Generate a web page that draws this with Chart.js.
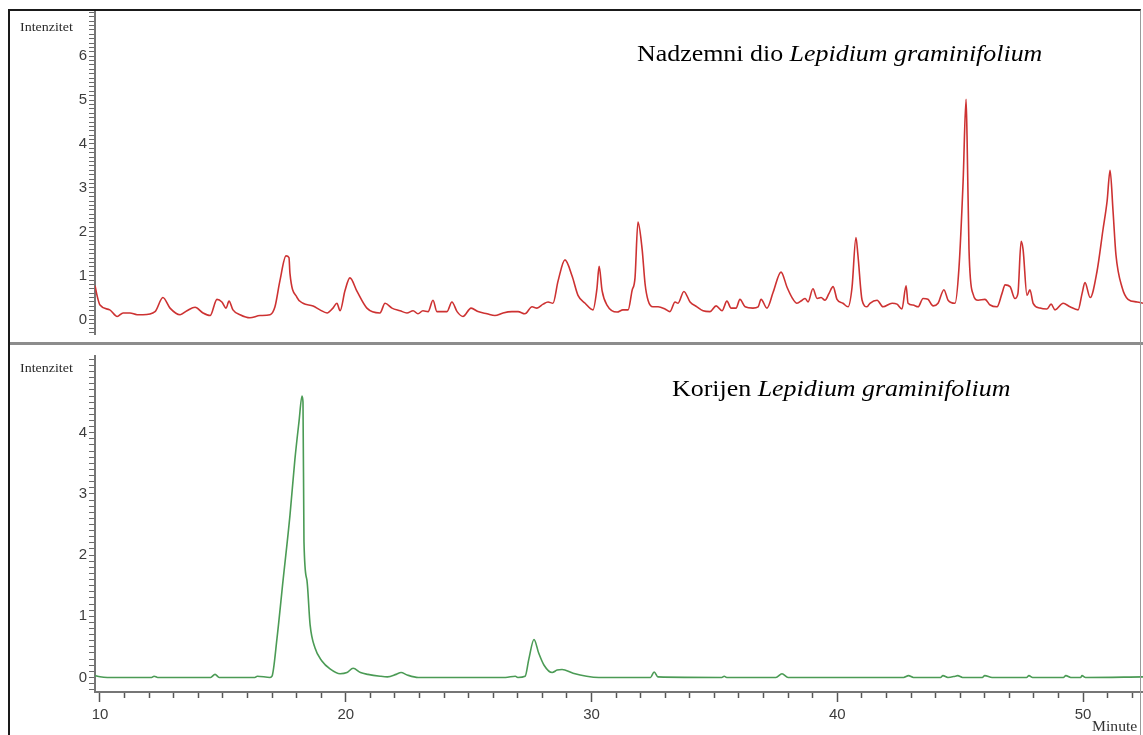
<!DOCTYPE html>
<html>
<head>
<meta charset="utf-8">
<script src="https://cdn.jsdelivr.net/npm/chart.js@4/dist/chart.umd.min.js"></script>
<style>
  html, body { margin:0; padding:0; background:#fff; }
  body { width:1143px; height:735px; position:relative; overflow:hidden; }
  canvas { position:absolute; left:0; }
  #cTop { top:0; }
  #cBot { top:345px; }
  .frame { position:absolute; left:8px; top:9px; width:1133px; height:730px; border-left:2px solid #1a1a1a; border-top:2px solid #1a1a1a; border-right:1px solid #9a9a9a; box-sizing:border-box; pointer-events:none; }
  .sep { position:absolute; left:8px; top:342px; width:1135px; height:3px; background:#8c8c8c; }
  .lbl { position:absolute; font-family:"Liberation Serif","Times New Roman",serif; color:#222; white-space:nowrap; transform-origin:left top; }
  .ylab { font-size:12.5px; transform:scaleX(1.12); color:#2a2a2a; }
  .title { font-size:24px; transform:scaleX(1.08); color:#000; }
  .minute { font-size:14px; transform:scaleX(1.12); color:#333; }
</style>
</head>
<body>
<canvas id="cTop" width="1143" height="345"></canvas>
<canvas id="cBot" width="1143" height="390"></canvas>
<div class="sep"></div>
<div class="frame"></div>
<div class="lbl ylab" style="left:20px; top:20px;">Intenzitet</div>
<div class="lbl ylab" style="left:20px; top:361px;">Intenzitet</div>
<div class="lbl title" style="left:637px; top:40px;">Nadzemni dio <i>Lepidium graminifolium</i></div>
<div class="lbl title" style="left:672px; top:375px;">Korijen <i>Lepidium graminifolium</i></div>
<div class="lbl minute" style="left:1092px; top:719px;">Minute</div>
<script>
// ---- data ----
const topTime = [9.80,9.88,10.0,10.4,10.7,10.94,11.22,11.51,11.75,12.24,12.56,12.85,13.26,13.54,13.87,14.19,14.48,14.76,14.96,15.13,15.25,15.41,15.70,16.10,16.51,16.92,17.12,17.32,17.57,17.69,17.73,18.02,18.26,18.67,18.95,19.24,19.48,19.64,19.77,19.97,20.17,20.46,20.86,21.39,21.60,21.88,22.21,22.49,22.74,22.94,23.14,23.35,23.55,23.71,24.12,24.32,24.53,24.77,25.10,25.38,25.75,26.07,26.40,26.76,27.01,27.29,27.58,27.78,28.03,28.23,28.43,28.64,28.92,29.21,29.45,29.74,30.06,30.22,30.31,30.43,30.63,31.04,31.28,31.49,31.65,31.77,31.89,32.06,32.18,32.30,32.50,32.71,32.99,33.19,33.40,33.52,33.76,34.01,34.29,34.54,34.82,35.07,35.31,35.51,35.68,35.88,36.04,36.25,36.57,36.78,36.90,37.14,37.39,37.71,37.96,38.16,38.36,38.57,38.69,38.81,39.01,39.18,39.34,39.50,39.66,39.83,39.99,40.23,40.44,40.60,40.76,40.84,41.01,41.21,41.33,41.62,41.86,42.23,42.43,42.63,42.80,42.88,43.08,43.29,43.49,43.69,43.90,44.10,44.34,44.51,44.79,44.95,45.12,45.24,45.28,45.36,45.52,45.73,46.01,46.22,46.50,46.70,46.83,47.03,47.23,47.35,47.48,47.56,47.72,47.84,47.97,48.25,48.53,48.70,48.86,49.19,49.47,49.80,49.96,50.08,50.29,50.57,50.81,50.98,51.10,51.22,51.34,51.59,51.83,52.20,52.44];
const topIntensity = [0.77,0.55,0.33,0.22,0.07,0.15,0.15,0.11,0.11,0.18,0.50,0.26,0.11,0.20,0.28,0.15,0.09,0.46,0.40,0.26,0.42,0.22,0.11,0.04,0.09,0.11,0.29,0.88,1.45,1.41,1.05,0.50,0.37,0.31,0.22,0.15,0.26,0.37,0.20,0.66,0.95,0.64,0.26,0.15,0.37,0.26,0.20,0.15,0.20,0.13,0.20,0.18,0.44,0.18,0.18,0.40,0.18,0.07,0.26,0.18,0.13,0.09,0.15,0.18,0.18,0.13,0.29,0.26,0.35,0.40,0.37,0.88,1.36,0.99,0.55,0.37,0.22,0.70,1.21,0.66,0.33,0.17,0.22,0.22,0.66,0.95,2.22,1.60,0.81,0.44,0.29,0.29,0.24,0.18,0.40,0.37,0.64,0.40,0.29,0.20,0.18,0.31,0.20,0.42,0.26,0.26,0.46,0.29,0.26,0.29,0.46,0.26,0.62,1.08,0.73,0.50,0.37,0.44,0.48,0.40,0.70,0.48,0.50,0.44,0.59,0.75,0.46,0.37,0.29,0.73,1.87,1.47,0.44,0.29,0.37,0.44,0.29,0.37,0.35,0.24,0.77,0.37,0.33,0.29,0.48,0.46,0.31,0.37,0.68,0.44,0.37,1.16,3.14,5.02,4.18,1.60,0.59,0.44,0.46,0.33,0.29,0.59,0.79,0.75,0.48,0.59,1.78,1.60,0.55,0.68,0.37,0.26,0.24,0.35,0.22,0.37,0.29,0.22,0.59,0.84,0.50,1.10,2.04,2.70,3.40,2.48,1.47,0.73,0.46,0.40,0.37];

const bottomTime = [9.80,10.0,10.3,12.1,12.2,12.35,14.5,14.68,14.85,16.3,16.4,16.92,17.0,17.2,17.45,17.73,17.93,18.10,18.22,18.26,18.30,18.42,18.55,18.75,19.03,19.36,19.77,20.05,20.3,20.6,20.9,21.4,21.7,22.05,22.25,22.5,22.95,26.5,26.9,27.0,27.3,27.45,27.66,27.85,28.07,28.4,28.6,28.8,29.25,29.8,30.3,32.4,32.55,32.7,35.3,35.4,35.5,37.5,37.75,38.0,42.7,42.9,43.1,44.2,44.3,44.5,44.8,44.9,45.1,45.9,46.0,46.3,47.7,47.8,47.95,49.2,49.3,49.5,49.9,49.96,50.1,52.44];
const bottomIntensity = [0.03,0.01,0.0,0.0,0.02,0.0,0.0,0.05,0.0,0.0,0.02,0.0,0.02,0.63,1.59,2.65,3.56,4.19,4.60,4.50,2.22,1.59,0.86,0.48,0.27,0.14,0.06,0.08,0.15,0.08,0.05,0.02,0.01,0.05,0.08,0.04,0.0,0.0,0.02,0.0,0.02,0.30,0.62,0.40,0.20,0.08,0.12,0.13,0.07,0.02,0.0,0.0,0.09,0.01,0.0,0.02,0.0,0.0,0.06,0.0,0.0,0.03,0.0,0.0,0.03,0.0,0.02,0.03,0.0,0.0,0.03,0.0,0.0,0.03,0.0,0.0,0.03,0.0,0.0,0.03,0.0,0.01];

const xTickLabels = [10, 20, 30, 40, 50];
const topYTickLabels = [0, 1, 2, 3, 4, 5, 6];
const bottomYTickLabels = [0, 1, 2, 3, 4];

// ---- axis ranges ----
const X_MIN = 9.797, X_MAX = 52.44;
const TOP_Y = [-0.33, 7.03];
const BOT_Y = [-0.238, 5.254];

const TICK_FONT = { family: "'Liberation Sans', Arial, sans-serif", size: 15 };
const TICK_COLOR = '#3c3c3c';
const AXIS_COLOR = '#767676';

function toPoints(xs, ys) { return xs.map((x, i) => ({ x: x, y: ys[i] })); }
function near(a, b) { return Math.abs(a - b) < 1e-6; }

function yScale(range, labels) {
  return {
    min: range[0], max: range[1],
    afterFit: s => { s.width = 95; },
    afterBuildTicks: s => {
      const t = [];
      for (let k = Math.ceil(range[0] * 10); k <= Math.floor(range[1] * 10); k++) t.push({ value: k / 10 });
      s.ticks = t;
    },
    ticks: {
      autoSkip: false, padding: 2, font: TICK_FONT, color: TICK_COLOR,
      callback: v => labels.some(l => near(l, v)) ? String(Math.round(v)) : ''
    },
    grid: { drawOnChartArea: false, tickLength: 6, tickColor: '#6a6a6a', tickWidth: 1 },
    border: { display: true, color: AXIS_COLOR, width: 2 }
  };
}

const common = {
  responsive: false, animation: false, devicePixelRatio: 1,
  plugins: { legend: { display: false }, tooltip: { enabled: false } },
  elements: { point: { radius: 0 } }
};

new Chart(document.getElementById('cTop'), {
  type: 'line',
  data: { datasets: [{ data: toPoints(topTime, topIntensity), borderColor: 'rgb(205,50,50)', borderWidth: 1.6, cubicInterpolationMode: 'monotone', fill: false }] },
  options: Object.assign({}, common, {
    layout: { padding: { top: 10, right: 0, bottom: 0, left: 0 } },
    scales: {
      x: { type: 'linear', min: X_MIN, max: X_MAX, display: false },
      y: yScale(TOP_Y, topYTickLabels)
    }
  })
});

new Chart(document.getElementById('cBot'), {
  type: 'line',
  data: { datasets: [{ data: toPoints(bottomTime, bottomIntensity), borderColor: 'rgb(75,155,85)', borderWidth: 1.6, cubicInterpolationMode: 'monotone', fill: false }] },
  options: Object.assign({}, common, {
    layout: { padding: { top: 1, right: 0, bottom: 0, left: 0 } },
    scales: {
      x: {
        type: 'linear', min: X_MIN, max: X_MAX, position: 'bottom',
        afterFit: s => { s.height = 43; },
        afterBuildTicks: s => {
          const t = [];
          for (let m = 10; m <= Math.floor(X_MAX); m++) t.push({ value: m });
          s.ticks = t;
        },
        ticks: {
          autoSkip: false, maxRotation: 0, padding: 4, font: TICK_FONT, color: TICK_COLOR,
          callback: v => xTickLabels.some(l => near(l, v)) ? String(v) : ''
        },
        grid: {
          drawOnChartArea: false, tickLength: 10, tickColor: '#555', tickWidth: 1.5,
          tickBorderDash: ctx => (ctx.tick && xTickLabels.some(l => near(l, ctx.tick.value))) ? [] : [5, 30]
        },
        border: { display: true, color: AXIS_COLOR, width: 2 }
      },
      y: yScale(BOT_Y, bottomYTickLabels)
    }
  })
});
</script>
</body>
</html>
